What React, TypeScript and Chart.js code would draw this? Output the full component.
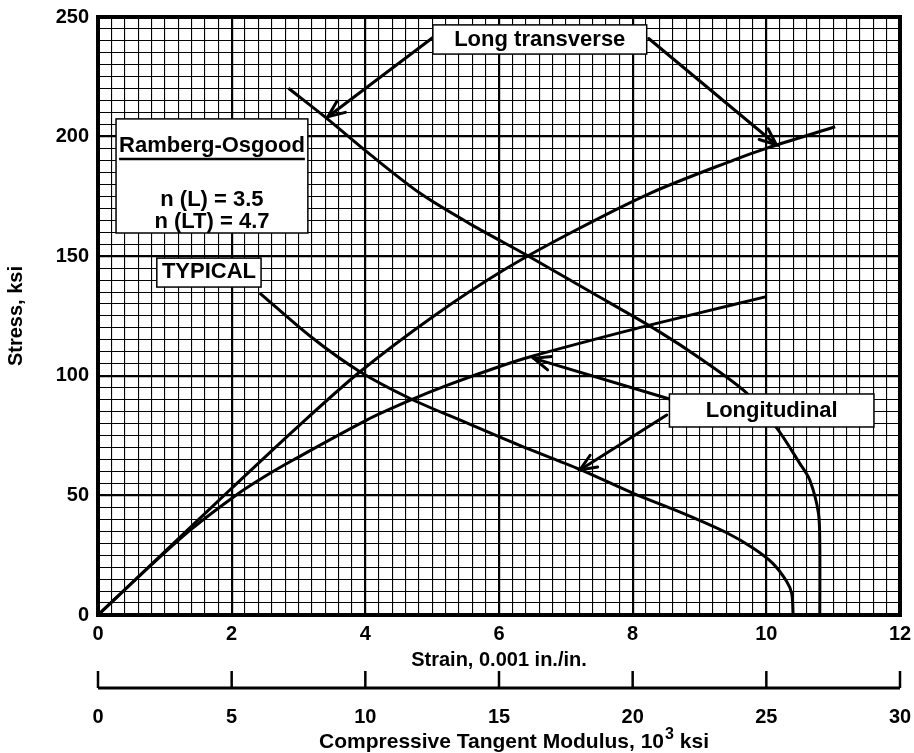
import React, { useEffect, useRef } from 'react';
import { Chart, registerables } from 'chart.js';

Chart.register(...registerables);

// ---- Data (strain in 0.001 in./in., stress in ksi, modulus in 10^3 ksi) ----
const strainTicks = [0, 2, 4, 6, 8, 10, 12];
const stressTicks = [0, 50, 100, 150, 200, 250];
const modulusTicks = [0, 5, 10, 15, 20, 25, 30];

// Longitudinal stress-strain
const lStrain = [0, 1.0, 2.0, 3.0, 3.92, 5.0, 6.07, 7.06, 8.26, 9.51, 10.0, 11.03];
const lStress = [0, 26.5, 53, 79, 101.7, 124.5, 144.2, 159.6, 176.3, 190.2, 195.1, 204.1];

// Long transverse stress-strain
const ltStrain = [0, 0.8, 1.38, 2.07, 2.5, 2.92, 4.02, 4.69, 5.22, 6.02, 6.51, 7.96, 9.0, 10.0];
const ltStress = [0, 21, 35.5, 50.2, 58, 64.8, 81.5, 90, 96, 104, 108.3, 119.1, 126.3, 133.1];

// Longitudinal tangent modulus (upper modulus curve)
const lModulus = [7.125, 8.625, 10.05, 12.05, 14.0, 16.025, 18.5, 20.9, 22.625, 24.275, 25.4, 26.25, 26.625, 26.95, 27.0, 27.0];
const lModStress = [220.2, 207.0, 193.7, 176.3, 163, 150.5, 134.6, 119.1, 106.5, 92.7, 78, 63.4, 56.4, 42.5, 28.6, 0];

// Long transverse tangent modulus (lower modulus curve)
const ltModulus = [6.05, 8.0, 9.8, 11.73, 13.75, 15.75, 18.0, 20.0, 22.0, 23.5, 24.5, 25.25, 25.75, 25.95, 26.0];
const ltModStress = [134.6, 116, 101.7, 90.2, 80.5, 71, 61, 51, 42, 34.5, 28, 21.5, 14.2, 9, 0];

const FONT = '"Liberation Sans", Arial, Helvetica, sans-serif';

const pts = (xs: number[], ys: number[]) => xs.map((x, i) => ({ x, y: ys[i] }));
const near = (v: number, step: number) => Math.abs(v / step - Math.round(v / step)) < 1e-6;

// annotations (in data coordinates: strain, stress)
const annBoxes = [
  { x0: 5.01, x1: 8.21, y0: 246.7, y1: 234.5, lines: [{ t: 'Long transverse', dy: 15 }] },
  { x0: 0.27, x1: 3.14, y0: 207.4, y1: 159.7, lines: [{ t: 'Ramberg-Osgood', dy: 27, underline: true }, { t: 'n (L) = 3.5', dy: 81 }, { t: 'n (LT) = 4.7', dy: 103 }] },
  { x0: 0.88, x1: 2.44, y0: 149.2, y1: 137.1, lines: [{ t: 'TYPICAL', dy: 14 }] },
  { x0: 8.55, x1: 11.61, y0: 92.4, y1: 78.6, lines: [{ t: 'Longitudinal', dy: 17 }] },
];
const annArrows = [
  { from: [5.06, 242.5], to: [3.44, 208.3] },
  { from: [8.24, 241.0], to: [10.15, 196.6] },
  { from: [8.55, 90.3], to: [6.52, 107.3] },
  { from: [8.51, 83.6], to: [7.21, 60.6] },
];

const overlay = {
  id: 'overlay',
  beforeDatasetsDraw(chart: any) {
    const { ctx, chartArea: a } = chart;
    ctx.save();
    ctx.strokeStyle = '#000';
    ctx.lineWidth = 4;
    ctx.strokeRect(a.left, a.top, a.right - a.left, a.bottom - a.top);
    ctx.restore();
  },
  afterDatasetsDraw(chart: any) {
    const { ctx } = chart;
    const xs = chart.scales.x;
    const ys = chart.scales.y;
    const X = (v: number) => xs.getPixelForValue(v);
    const Y = (v: number) => ys.getPixelForValue(v);
    ctx.save();
    ctx.strokeStyle = '#000';
    ctx.lineCap = 'round';
    // arrows
    for (const ar of annArrows) {
      const x1 = X(ar.from[0]), y1 = Y(ar.from[1]);
      const x2 = X(ar.to[0]), y2 = Y(ar.to[1]);
      ctx.lineWidth = 3;
      ctx.beginPath();
      ctx.moveTo(x1, y1);
      ctx.lineTo(x2, y2);
      ctx.stroke();
      const ang = Math.atan2(y1 - y2, x1 - x2);
      const hl = 18, spread = 0.4;
      ctx.beginPath();
      ctx.moveTo(x2 + hl * Math.cos(ang + spread), y2 + hl * Math.sin(ang + spread));
      ctx.lineTo(x2, y2);
      ctx.lineTo(x2 + hl * Math.cos(ang - spread), y2 + hl * Math.sin(ang - spread));
      ctx.stroke();
    }
    // boxes
    ctx.lineCap = 'butt';
    for (const b of annBoxes) {
      const l = X(b.x0), r = X(b.x1), t = Y(b.y0), bt = Y(b.y1);
      ctx.fillStyle = '#fff';
      ctx.fillRect(l, t, r - l, bt - t);
      ctx.lineWidth = 1.5;
      ctx.strokeRect(l, t, r - l, bt - t);
      ctx.fillStyle = '#000';
      ctx.font = `bold 22px ${FONT}`;
      ctx.textAlign = 'center';
      ctx.textBaseline = 'middle';
      const cx = (l + r) / 2;
      for (const ln of b.lines) {
        ctx.fillText(ln.t, cx, t + ln.dy);
        if ((ln as any).underline) {
          const w = ctx.measureText(ln.t).width;
          ctx.lineWidth = 2.5;
          ctx.beginPath();
          ctx.moveTo(cx - w / 2, t + ln.dy + 13);
          ctx.lineTo(cx + w / 2, t + ln.dy + 13);
          ctx.stroke();
        }
      }
    }
    ctx.restore();
  },
  afterDraw(chart: any) {
    const { ctx } = chart;
    const x2 = chart.scales.x2;
    const yLine = x2.top + 15;
    ctx.save();
    ctx.strokeStyle = '#000';
    ctx.lineWidth = 3;
    ctx.beginPath();
    ctx.moveTo(x2.left, yLine);
    ctx.lineTo(x2.right, yLine);
    ctx.stroke();
    ctx.lineWidth = 2.5;
    for (const t of x2.ticks) {
      const px = x2.getPixelForValue(t.value);
      ctx.beginPath();
      ctx.moveTo(px, yLine);
      ctx.lineTo(px, yLine - 17);
      ctx.stroke();
    }
    // title with superscript
    const main = 'Compressive Tangent Modulus, 10';
    const sup = '3';
    const tail = ' ksi';
    ctx.fillStyle = '#000';
    ctx.textBaseline = 'alphabetic';
    ctx.font = `bold 21px ${FONT}`;
    const w1 = ctx.measureText(main).width;
    const w3 = ctx.measureText(tail).width;
    ctx.font = `bold 16px ${FONT}`;
    const w2 = ctx.measureText(sup).width;
    const total = w1 + w2 + w3 + 1;
    const cx = (x2.left + x2.right) / 2 + 15;
    let sx = cx - total / 2;
    const base = 748;
    ctx.textAlign = 'left';
    ctx.font = `bold 21px ${FONT}`;
    ctx.fillText(main, sx, base);
    sx += w1;
    ctx.font = `bold 16px ${FONT}`;
    ctx.fillText(sup, sx + 1, base - 9);
    sx += w2 + 1;
    ctx.font = `bold 21px ${FONT}`;
    ctx.fillText(tail, sx, base);
    ctx.restore();
  },
};

export default function App() {
  const ref = useRef<HTMLCanvasElement | null>(null);
  useEffect(() => {
    if (!ref.current) return;
    const tickFont = { family: FONT, size: 20, weight: 'bold' as const };
    const titleFont = { family: FONT, size: 20, weight: 'bold' as const };
    const yTitleFont = { family: FONT, size: 20, weight: 'bold' as const };
    const lineStyle = { borderColor: '#000', borderWidth: 3, pointRadius: 0, showLine: true, tension: 0.3, fill: false };
    const chart = new Chart(ref.current, {
      type: 'scatter',
      data: {
        datasets: [
          { label: 'L stress', data: pts(lStrain, lStress), xAxisID: 'x', yAxisID: 'y', ...lineStyle },
          { label: 'LT stress', data: pts(ltStrain, ltStress), xAxisID: 'x', yAxisID: 'y', ...lineStyle },
          { label: 'L modulus', data: pts(lModulus, lModStress), xAxisID: 'x2', yAxisID: 'y', ...lineStyle },
          { label: 'LT modulus', data: pts(ltModulus, ltModStress), xAxisID: 'x2', yAxisID: 'y', ...lineStyle },
        ],
      },
      options: {
        animation: false,
        responsive: false,
        devicePixelRatio: 1,
        layout: { padding: { top: 17, right: 14, left: 0, bottom: 0 } },
        plugins: { legend: { display: false }, tooltip: { enabled: false } },
        scales: {
          x: {
            type: 'linear',
            position: 'bottom',
            min: strainTicks[0],
            max: strainTicks[strainTicks.length - 1],
            afterFit: (s: any) => { s.height = 58; },
            ticks: {
              stepSize: 0.2,
              autoSkip: false,
              maxRotation: 0,
              padding: 0,
              color: '#000',
              font: tickFont,
              callback: (v: any) => (strainTicks.some((t) => Math.abs(t - v) < 1e-6) ? String(Math.round(v)) : ''),
            },
            grid: {
              drawTicks: true,
              tickLength: 7,
              tickColor: 'rgba(0,0,0,0)',
              color: '#000',
              lineWidth: (c: any) => (near(c.tick.value, 2) ? 2.2 : 1.1),
            },
            border: { display: false },
            title: { display: true, text: 'Strain, 0.001 in./in.', color: '#000', font: titleFont, padding: { top: 0, bottom: 1 } },
          },
          x2: {
            type: 'linear',
            position: 'bottom',
            min: modulusTicks[0],
            max: modulusTicks[modulusTicks.length - 1],
            afterFit: (s: any) => { s.height = 80; },
            ticks: {
              stepSize: 5,
              autoSkip: false,
              maxRotation: 0,
              padding: 0,
              color: '#000',
              font: tickFont,
              callback: (v: any) => (modulusTicks.includes(v) ? String(v) : ''),
            },
            grid: { display: false, drawTicks: true, tickLength: 32 },
            border: { display: false },
          },
          y: {
            type: 'linear',
            min: stressTicks[0],
            max: stressTicks[stressTicks.length - 1],
            afterFit: (s: any) => { s.width = 98; },
            ticks: {
              stepSize: 5,
              autoSkip: false,
              padding: 0,
              color: '#000',
              font: tickFont,
              callback: (v: any) => (stressTicks.includes(v) ? String(v) : ''),
            },
            grid: {
              drawTicks: true,
              tickLength: 9,
              tickColor: 'rgba(0,0,0,0)',
              color: '#000',
              lineWidth: (c: any) => (near(c.tick.value, 50) ? 2.2 : 1.1),
            },
            border: { display: false },
            title: { display: true, text: 'Stress, ksi', color: '#000', font: yTitleFont, padding: { top: 4, bottom: 0 } },
          },
        },
      },
      plugins: [overlay],
    });
    return () => chart.destroy();
  }, []);
  return (
    <div style={{ position: 'absolute', left: 0, top: 0, width: 914, height: 753, background: '#fff' }}>
      <canvas ref={ref} width={914} height={753} style={{ display: 'block' }} />
    </div>
  );
}
